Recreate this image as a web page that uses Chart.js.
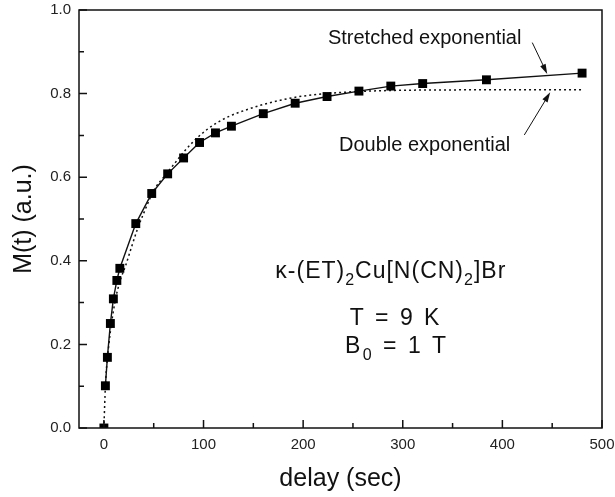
<!DOCTYPE html>
<html>
<head>
<meta charset="utf-8">
<script src="https://cdn.jsdelivr.net/npm/chart.js@4/dist/chart.umd.min.js"></script>
<style>
  body { margin: 0; background: #fff; }
  #wrap { width: 615px; height: 497px; }
</style>
</head>
<body>
<div id="wrap"><canvas id="relaxChart" width="615" height="497"></canvas></div>
<script>
// measured recovery, delay in sec
const delays = [0, 1.5, 3.5, 6.5, 9.5, 13, 16, 32, 48, 64, 80, 96, 112, 128, 160, 192, 224, 256, 288, 320, 384, 480];
const magnetization = [0, 0.101, 0.169, 0.250, 0.309, 0.353, 0.382, 0.489, 0.561, 0.608, 0.646, 0.683, 0.706, 0.722, 0.752, 0.777, 0.793, 0.806, 0.818, 0.824, 0.833, 0.849];

// double exponential fit (dotted)
const fitDelays = [0, 1.5, 5, 11, 16, 22, 28, 34, 40, 46, 52, 60, 70, 80, 94, 110, 127, 144, 160, 177, 194, 210, 227, 256, 300, 400, 482];
const fitDouble = [0, 0.10, 0.20, 0.30, 0.35, 0.39, 0.435, 0.478, 0.514, 0.548, 0.576, 0.600, 0.630, 0.660, 0.695, 0.725, 0.747, 0.762, 0.774, 0.784, 0.792, 0.797, 0.801, 0.805, 0.808, 0.809, 0.809];

// axis ticks
const xMajorTicks = [0, 100, 200, 300, 400, 500];
const xMinorTicks = [50, 150, 250, 350, 450];
const yMajorTicks = [0, 0.2, 0.4, 0.6, 0.8, 1.0];
const yMinorTicks = [0.1, 0.3, 0.5, 0.7, 0.9];

const FONT = "'Liberation Sans', Arial, sans-serif";
const INK = '#111';

function toXY(xs, ys) {
    return xs.map((x, i) => ({ x: x, y: ys[i] }));
}

// labels and arrows, placed in data units
const notes = [
    { runs: [['Stretched exponential']], x: 322, y: 0.933, size: 20, gap: 0 },
    { runs: [['Double exponential']], x: 322, y: 0.677, size: 20, gap: 0 },
    { runs: [['\u03ba-(ET)'], ['2', 1], ['Cu[N(CN)'], ['2', 1], [']Br']], x: 288, y: 0.373, size: 23, gap: 1 },
    { runs: [['T = 9 K']], x: 293, y: 0.261, size: 23, gap: 2.5 },
    { runs: [['B'], ['0', 1], [' = 1 T']], x: 294, y: 0.194, size: 23, gap: 2.5 }
];
const arrows = [
    { from: [430, 0.922], to: [445, 0.847] },
    { from: [422, 0.701], to: [448, 0.803] }
];

function drawRuns(ctx, note, cx, cy) {
    const big = note.size + 'px ' + FONT;
    const small = Math.round(note.size * 0.68) + 'px ' + FONT;
    ctx.letterSpacing = note.gap + 'px';
    let total = 0;
    note.runs.forEach(r => {
        ctx.font = r[1] ? small : big;
        total += ctx.measureText(r[0]).width;
    });
    let px = cx - total / 2;
    ctx.textAlign = 'left';
    ctx.textBaseline = 'middle';
    note.runs.forEach(r => {
        ctx.font = r[1] ? small : big;
        ctx.fillText(r[0], px, r[1] ? cy + note.size * 0.38 : cy);
        px += ctx.measureText(r[0]).width;
    });
    ctx.letterSpacing = '0px';
}

function drawArrow(ctx, x1, y1, x2, y2) {
    const ang = Math.atan2(y2 - y1, x2 - x1);
    const len = 10, half = 3;
    ctx.beginPath();
    ctx.moveTo(x1, y1);
    ctx.lineTo(x2 - Math.cos(ang) * len * 0.8, y2 - Math.sin(ang) * len * 0.8);
    ctx.stroke();
    ctx.beginPath();
    ctx.moveTo(x2, y2);
    ctx.lineTo(x2 - Math.cos(ang) * len - Math.sin(ang) * half, y2 - Math.sin(ang) * len + Math.cos(ang) * half);
    ctx.lineTo(x2 - Math.cos(ang) * len + Math.sin(ang) * half, y2 - Math.sin(ang) * len - Math.cos(ang) * half);
    ctx.closePath();
    ctx.fill();
}

// frame, inward ticks, text and arrows
const framePlugin = {
    id: 'frame',
    afterDatasetsDraw(chart) {
        const { ctx, chartArea: a, scales: { x, y } } = chart;
        ctx.save();
        ctx.strokeStyle = INK;
        ctx.fillStyle = INK;
        ctx.lineWidth = 1.5;
        ctx.strokeRect(a.left, a.top, a.right - a.left, a.bottom - a.top);

        ctx.beginPath();
        xMajorTicks.forEach(v => { const p = x.getPixelForValue(v); ctx.moveTo(p, a.bottom); ctx.lineTo(p, a.bottom - 8); });
        xMinorTicks.forEach(v => { const p = x.getPixelForValue(v); ctx.moveTo(p, a.bottom); ctx.lineTo(p, a.bottom - 5); });
        yMajorTicks.forEach(v => { const p = y.getPixelForValue(v); ctx.moveTo(a.left, p); ctx.lineTo(a.left + 8, p); });
        yMinorTicks.forEach(v => { const p = y.getPixelForValue(v); ctx.moveTo(a.left, p); ctx.lineTo(a.left + 5, p); });
        ctx.stroke();

        notes.forEach(n => drawRuns(ctx, n, x.getPixelForValue(n.x), y.getPixelForValue(n.y)));

        ctx.lineWidth = 1;
        arrows.forEach(ar => drawArrow(ctx,
            x.getPixelForValue(ar.from[0]), y.getPixelForValue(ar.from[1]),
            x.getPixelForValue(ar.to[0]), y.getPixelForValue(ar.to[1])));
        ctx.restore();
    }
};

const chartCtx = document.getElementById('relaxChart');
new Chart(chartCtx.getContext('2d'), {
    type: 'scatter',
    data: {
        datasets: [{
            label: 'Double exponential',
            data: toXY(fitDelays, fitDouble),
            showLine: true,
            borderColor: INK,
            borderWidth: 1.5,
            borderDash: [2, 3],
            pointRadius: 0,
            cubicInterpolationMode: 'monotone',
            order: 3
        }, {
            label: 'Stretched exponential',
            data: toXY(delays.slice(1), magnetization.slice(1)),
            showLine: true,
            borderColor: INK,
            borderWidth: 1.4,
            pointRadius: 0,
            order: 2
        }, {
            label: 'M(t)',
            data: toXY(delays, magnetization),
            pointStyle: 'rect',
            pointRadius: 6.3,
            backgroundColor: '#000',
            borderColor: '#000',
            borderWidth: 0,
            order: 1
        }]
    },
    options: {
        responsive: false,
        animation: false,
        layout: { padding: { top: 10, right: 13, left: 0, bottom: 0 } },
        plugins: {
            legend: { display: false },
            tooltip: { enabled: false }
        },
        scales: {
            x: {
                type: 'linear',
                min: -25,
                max: 500,
                grid: { display: false, drawTicks: false },
                border: { display: false },
                afterBuildTicks: s => { s.ticks = xMajorTicks.map(v => ({ value: v })); },
                afterFit: s => { s.height = 69; s.paddingLeft = 0; s.paddingRight = 0; },
                ticks: {
                    color: '#222',
                    font: { family: FONT, size: 15 },
                    padding: 8,
                    maxRotation: 0,
                    autoSkip: false
                },
                title: {
                    display: true,
                    text: 'delay (sec)',
                    color: INK,
                    font: { family: FONT, size: 25 },
                    padding: { top: 0, bottom: 3 }
                }
            },
            y: {
                type: 'linear',
                min: 0,
                max: 1,
                grid: { display: false, drawTicks: false },
                border: { display: false },
                afterBuildTicks: s => { s.ticks = yMajorTicks.map(v => ({ value: v })); },
                afterFit: s => { s.width = 79; s.paddingTop = 0; s.paddingBottom = 0; },
                ticks: {
                    color: '#222',
                    font: { family: FONT, size: 15 },
                    padding: 8,
                    autoSkip: false,
                    callback: v => v.toFixed(1)
                },
                title: {
                    display: true,
                    text: 'M(t) (a.u.)',
                    color: INK,
                    font: { family: FONT, size: 25 },
                    padding: { top: 9, bottom: 0 }
                }
            }
        }
    },
    plugins: [framePlugin]
});
</script>
</body>
</html>
